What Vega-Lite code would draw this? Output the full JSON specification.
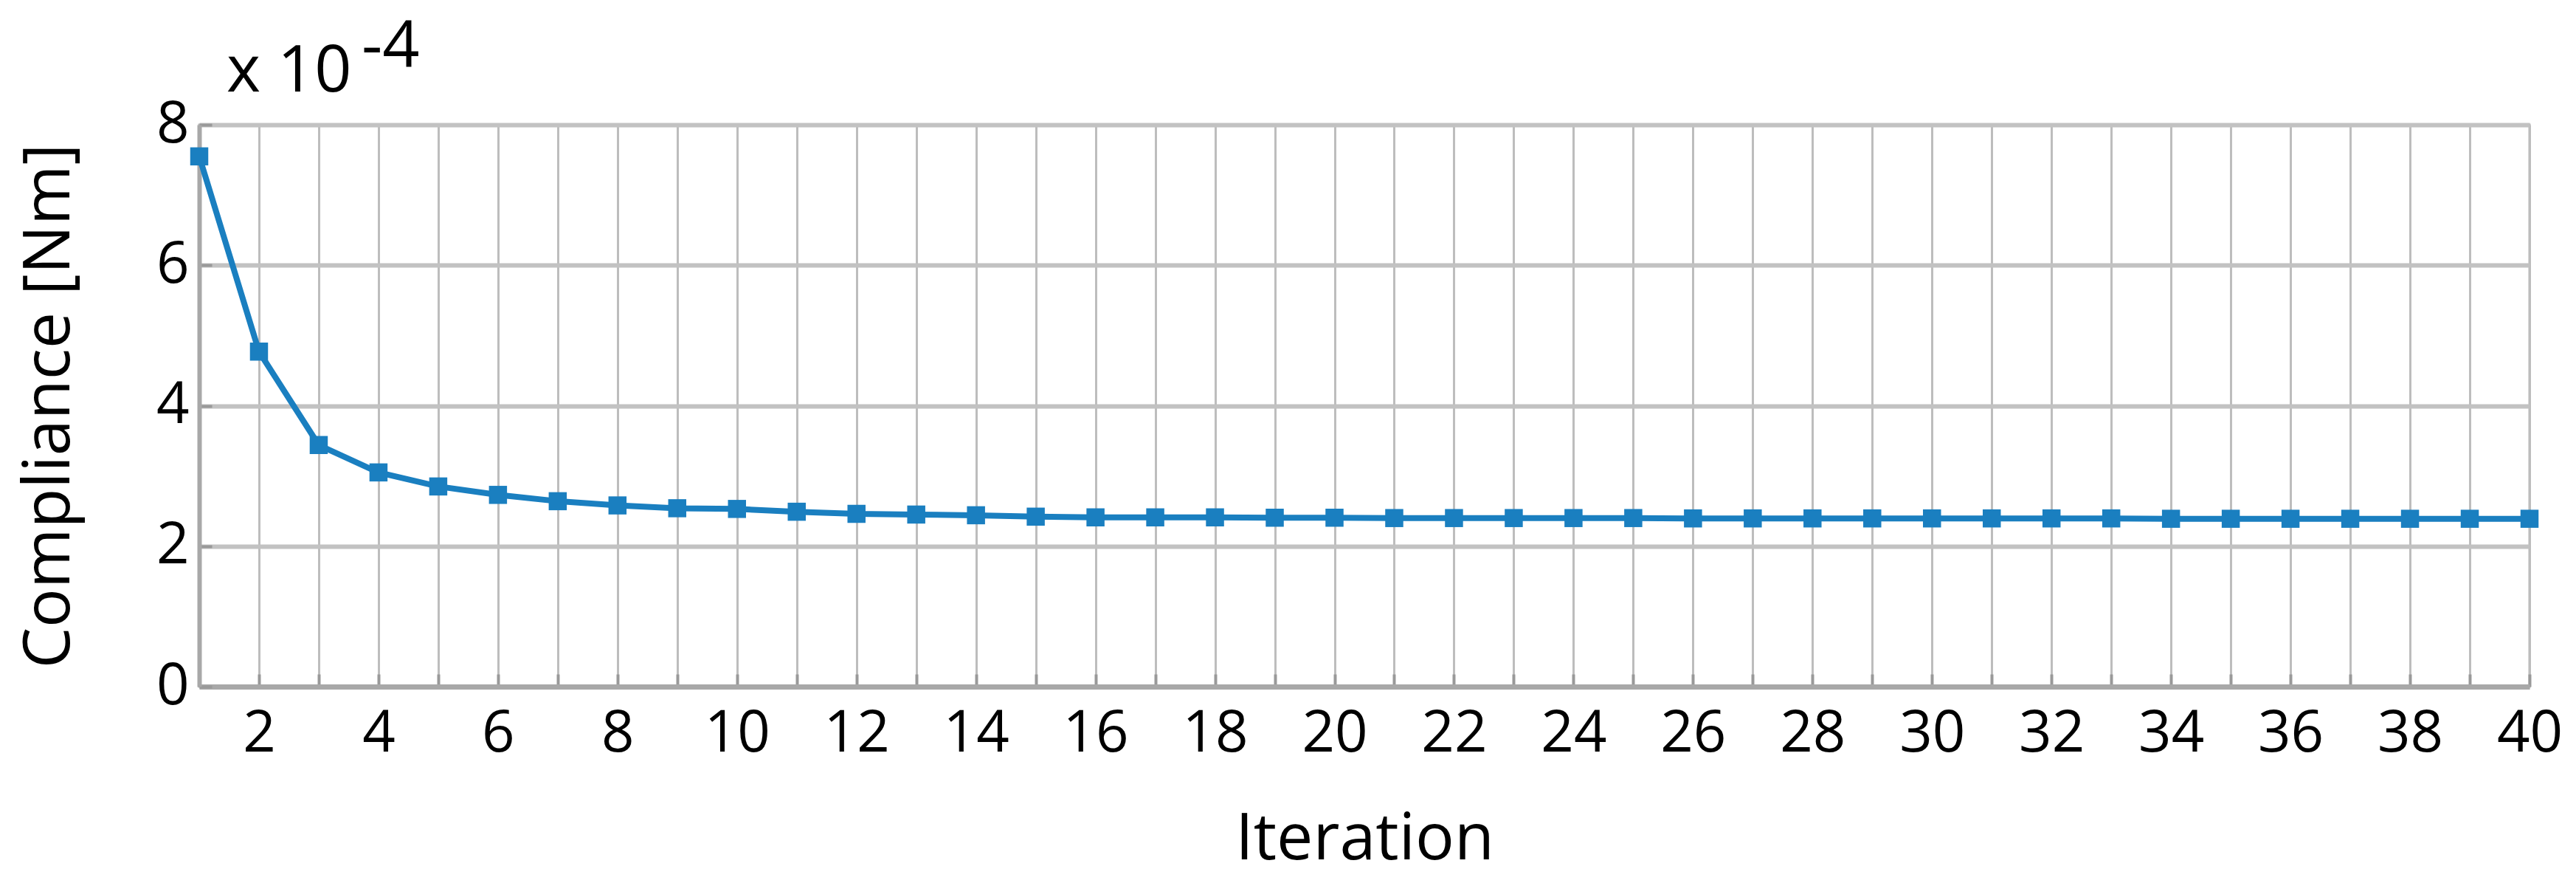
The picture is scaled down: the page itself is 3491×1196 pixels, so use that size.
{
  "$schema": "https://vega.github.io/schema/vega-lite/v6.json",
  "autosize": {"type": "none"},
  "width": 3158,
  "height": 761,
  "padding": {"left": 270, "top": 169, "right": 63, "bottom": 266},
  "background": "white",
  "title": {
    "text": "\u200b\u00a0\u00a0\u00a0\u00a0\u00a0\u00a0\u00a0\u00a0-4",
    "subtitle": "x 10",
    "anchor": "start",
    "frame": "group",
    "offset": -12,
    "dx": 37,
    "font": "Open Sans",
    "fontSize": 88,
    "fontWeight": "normal",
    "color": "black",
    "subtitleFont": "Open Sans",
    "subtitleFontSize": 88,
    "subtitleColor": "black",
    "subtitlePadding": -55
  },
  "data": {
    "values": [
      {"Iteration": 1, "Compliance": 7.55},
      {"Iteration": 2, "Compliance": 4.77},
      {"Iteration": 3, "Compliance": 3.44},
      {"Iteration": 4, "Compliance": 3.05},
      {"Iteration": 5, "Compliance": 2.85},
      {"Iteration": 6, "Compliance": 2.73},
      {"Iteration": 7, "Compliance": 2.64},
      {"Iteration": 8, "Compliance": 2.58},
      {"Iteration": 9, "Compliance": 2.54},
      {"Iteration": 10, "Compliance": 2.53},
      {"Iteration": 11, "Compliance": 2.49},
      {"Iteration": 12, "Compliance": 2.46},
      {"Iteration": 13, "Compliance": 2.45},
      {"Iteration": 14, "Compliance": 2.44},
      {"Iteration": 15, "Compliance": 2.42},
      {"Iteration": 16, "Compliance": 2.41},
      {"Iteration": 17, "Compliance": 2.41},
      {"Iteration": 18, "Compliance": 2.41},
      {"Iteration": 19, "Compliance": 2.405},
      {"Iteration": 20, "Compliance": 2.405},
      {"Iteration": 21, "Compliance": 2.4},
      {"Iteration": 22, "Compliance": 2.4},
      {"Iteration": 23, "Compliance": 2.4},
      {"Iteration": 24, "Compliance": 2.4},
      {"Iteration": 25, "Compliance": 2.4},
      {"Iteration": 26, "Compliance": 2.395},
      {"Iteration": 27, "Compliance": 2.395},
      {"Iteration": 28, "Compliance": 2.395},
      {"Iteration": 29, "Compliance": 2.395},
      {"Iteration": 30, "Compliance": 2.395},
      {"Iteration": 31, "Compliance": 2.395},
      {"Iteration": 32, "Compliance": 2.395},
      {"Iteration": 33, "Compliance": 2.395},
      {"Iteration": 34, "Compliance": 2.39},
      {"Iteration": 35, "Compliance": 2.39},
      {"Iteration": 36, "Compliance": 2.39},
      {"Iteration": 37, "Compliance": 2.39},
      {"Iteration": 38, "Compliance": 2.39},
      {"Iteration": 39, "Compliance": 2.39},
      {"Iteration": 40, "Compliance": 2.39}
    ]
  },
  "mark": {
    "type": "line",
    "color": "#1a7fc0",
    "strokeWidth": 8,
    "point": {"shape": "square", "size": 600, "filled": true, "color": "#1a7fc0", "opacity": 1}
  },
  "encoding": {
    "x": {
      "field": "Iteration",
      "type": "quantitative",
      "scale": {"domain": [1, 40], "nice": false, "zero": false},
      "axis": {
        "title": "Iteration",
        "values": [1,2,3,4,5,6,7,8,9,10,11,12,13,14,15,16,17,18,19,20,21,22,23,24,25,26,27,28,29,30,31,32,33,34,35,36,37,38,39,40],
        "labelExpr": "datum.value % 2 == 0 ? datum.label : ''",
        "labelFont": "Open Sans",
        "labelFontSize": 78,
        "labelColor": "black",
        "labelPadding": 42,
        "labelFlush": false,
        "labelOverlap": false,
        "titleFont": "Open Sans",
        "titleFontSize": 88,
        "titleFontWeight": "normal",
        "titleColor": "black",
        "titlePadding": 60,
        "grid": true,
        "gridColor": "#bdbdbd",
        "gridWidth": 3,
        "domainColor": "#a8a8a8",
        "domainWidth": 7,
        "ticks": true,
        "tickSize": -17,
        "tickColor": "#999999",
        "tickWidth": 4
      }
    },
    "y": {
      "field": "Compliance",
      "type": "quantitative",
      "scale": {"domain": [0, 8], "nice": false},
      "axis": {
        "title": "Compliance [Nm]",
        "values": [0, 2, 4, 6, 8],
        "labelFont": "Open Sans",
        "labelFontSize": 78,
        "labelColor": "black",
        "labelPadding": 31,
        "labelFlush": false,
        "labelOverlap": false,
        "titleFont": "Open Sans",
        "titleFontSize": 88,
        "titleFontWeight": "normal",
        "titleColor": "black",
        "titlePadding": 100,
        "grid": true,
        "gridColor": "#c2c2c2",
        "gridWidth": 6,
        "domainColor": "#a8a8a8",
        "domainWidth": 6,
        "ticks": true,
        "tickSize": -17,
        "tickColor": "#999999",
        "tickWidth": 4
      }
    }
  },
  "config": {
    "view": {"stroke": "#b5b5b5", "strokeWidth": 3}
  }
}
